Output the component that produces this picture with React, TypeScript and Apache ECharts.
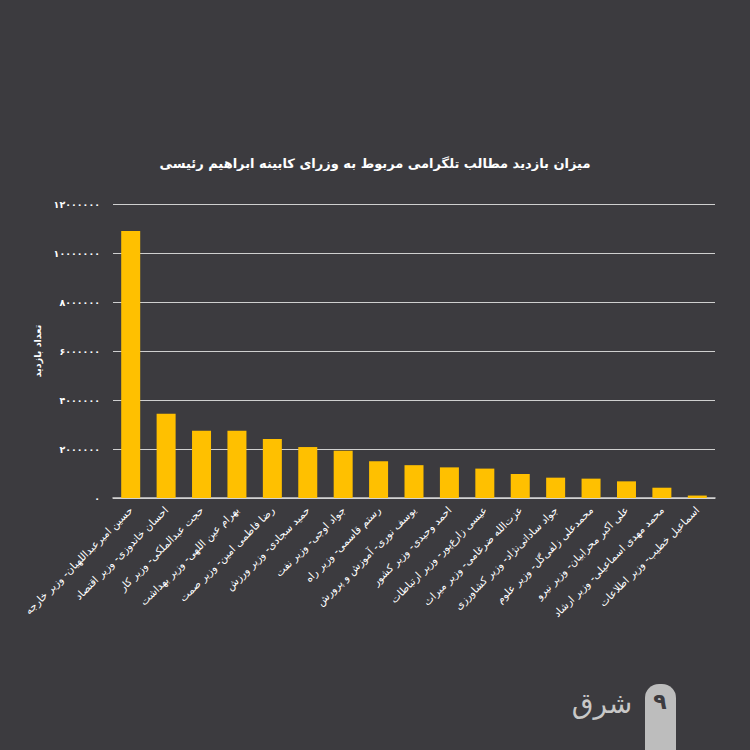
import React, { useEffect, useRef } from "react";
import * as echarts from "echarts";

const categories = [
  "حسین امیرعبداللهیان- وزیر خارجه",
  "احسان خاندوزی- وزیر اقتصاد",
  "حجت عبدالملکی- وزیر کار",
  "بهرام عین اللهی- وزیر بهداشت",
  "رضا فاطمی امین- وزیر صمت",
  "حمید سجادی- وزیر ورزش",
  "جواد اوجی- وزیر نفت",
  "رستم قاسمی- وزیر راه",
  "یوسف نوری- آموزش و پرورش",
  "احمد وحیدی- وزیر کشور",
  "عیسی زارع‌پور- وزیر ارتباطات",
  "عزت‌الله ضرغامی- وزیر میراث",
  "جواد ساداتی‌نژاد- وزیر کشاورزی",
  "محمدعلی زلفی‌گل- وزیر علوم",
  "علی اکبر محرابیان- وزیر نیرو",
  "محمد مهدی اسماعیلی- وزیر ارشاد",
  "اسماعیل خطیب- وزیر اطلاعات",
];

const views = [
  10900000, 3440000, 2740000, 2740000, 2410000, 2080000, 1930000, 1500000,
  1340000, 1250000, 1200000, 980000, 830000, 790000, 680000, 420000, 100000,
];

const title = "میزان بازدید مطالب تلگرامی مربوط به وزرای کابینه ابراهیم رئیسی";
const yAxisName = "تعداد بازدید";
const pageNumber = "۹";
const logoText = "شرق";

const persianDigits = ["۰", "۱", "۲", "۳", "۴", "۵", "۶", "۷", "۸", "۹"];
const toPersian = (v: number) =>
  String(v).replace(/[0-9]/g, (d) => persianDigits[Number(d)]);

const FONT = "DejaVu Sans";

export default function App() {
  const ref = useRef<HTMLDivElement>(null);
  useEffect(() => {
    if (!ref.current) return;
    const chart = echarts.init(ref.current, undefined, { renderer: "svg" });
    chart.setOption({
      animation: false,
      backgroundColor: "#3c3b3f",
      title: {
        text: title,
        left: "center",
        top: 152,
        textStyle: {
          color: "#ffffff",
          fontSize: 13,
          fontWeight: "bold",
          fontFamily: FONT,
        },
      },
      grid: { left: 113, right: 35, top: 204, bottom: 252, containLabel: false },
      xAxis: {
        type: "category",
        data: categories,
        axisLine: { show: true, lineStyle: { color: "#d4d4d4", width: 1.5 } },
        axisTick: { show: false },
        axisLabel: {
          interval: 0,
          rotate: 45,
          margin: 10,
          color: "#ffffff",
          fontSize: 10.5,
          fontFamily: FONT,
        },
      },
      yAxis: {
        type: "value",
        min: 0,
        max: 12000000,
        interval: 2000000,
        name: yAxisName,
        nameLocation: "middle",
        nameRotate: 90,
        nameGap: 58,
        nameTextStyle: {
          color: "#ffffff",
          fontSize: 9.5,
          fontWeight: "bold",
          fontFamily: FONT,
        },
        axisLine: { show: false },
        axisTick: { show: false },
        axisLabel: {
          color: "#ffffff",
          fontSize: 9.5,
          fontWeight: "bold",
          fontFamily: FONT,
          margin: 13,
          formatter: (v: number) => toPersian(v),
        },
        splitLine: { lineStyle: { color: "#cfcfcf", width: 1.2 } },
      },
      series: [
        {
          type: "bar",
          data: views,
          barWidth: 19,
          itemStyle: { color: "#ffc000" },
        },
      ],
      graphic: [
        {
          type: "rect",
          shape: { x: 645, y: 684, width: 31, height: 80, r: [14, 14, 0, 0] },
          style: { fill: "#bdbdbd" },
        },
        {
          type: "text",
          x: 660,
          y: 701,
          style: {
            text: pageNumber,
            fill: "#3c3b3f",
            fontSize: 22,
            fontWeight: "bold",
            fontFamily: FONT,
            align: "center",
            verticalAlign: "middle",
          },
        },
        {
          type: "text",
          x: 602,
          y: 703,
          style: {
            text: logoText,
            fill: "#c8c8c8",
            fontSize: 28,
            fontFamily: FONT,
            align: "center",
            verticalAlign: "middle",
          },
        },
      ],
    });
    return () => chart.dispose();
  }, []);
  return (
    <div
      ref={ref}
      style={{ width: 750, height: 750, position: "fixed", left: 0, top: 0 }}
    />
  );
}
